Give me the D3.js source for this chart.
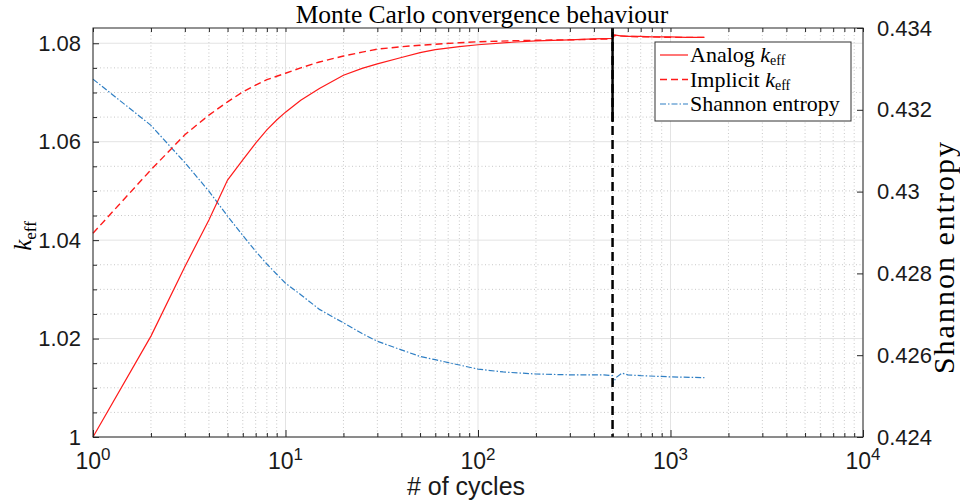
<!DOCTYPE html>
<html>
<head>
<meta charset="utf-8">
<script src="https://cdn.jsdelivr.net/npm/d3@7"></script>
<style>
  html, body { margin: 0; padding: 0; background: #fff; }
  svg { display: block; }
</style>
</head>
<body>
<svg id="chart" width="960" height="501"></svg>
<script>
// ---------------- data ----------------
const kCycles = [1,2,3,4,5,6,7,8,9,10,12,15,20,25,30,40,50,60,80,100,150,200,300,400,500,510,550,600,700,800,1000,1200,1500];
const analogK = [1.0000,1.0205,1.0346,1.0441,1.0522,1.0563,1.0597,1.0624,1.0644,1.0660,1.0684,1.0708,1.0735,1.0749,1.0758,1.0771,1.0781,1.0787,1.0793,1.0797,1.0802,1.0805,1.0807,1.0809,1.0810,1.0817,1.0815,1.0814,1.0814,1.0813,1.0813,1.0812,1.0812];
const implicitK = [1.0414,1.0543,1.0614,1.0654,1.0681,1.0701,1.0715,1.0726,1.0733,1.0739,1.0750,1.0762,1.0774,1.0782,1.0788,1.0793,1.0796,1.0798,1.0801,1.0803,1.0805,1.0806,1.0807,1.0808,1.0809,1.0816,1.0815,1.0814,1.0813,1.0813,1.0812,1.0812,1.0812];
const hCycles = [1,2,3,4,5,6,7,8,9,10,12,15,20,25,30,40,50,60,80,100,135,200,300,450,500,505,520,560,600,700,1000,1500];
const entropy = [0.43275,0.43162,0.43071,0.43001,0.42940,0.42893,0.42854,0.42823,0.42798,0.42776,0.42748,0.42712,0.42679,0.42653,0.42634,0.42613,0.42597,0.42589,0.42576,0.42566,0.42559,0.42554,0.42552,0.42552,0.42550,0.42532,0.42545,0.42556,0.42552,0.42550,0.42547,0.42545];
const vlineCycle = 500;
const vlineSolidTo = 1.064;   // solid part of marker (left axis units)
const xDomain = [1, 10000];
const kDomain = [1, 1.0831];
const hDomain = [0.424, 0.434];
const xTickExps = [0, 1, 2, 3, 4];
const kTicks = [1, 1.02, 1.04, 1.06, 1.08];
const kTickLabels = ["1", "1.02", "1.04", "1.06", "1.08"];
const kMinorStep = 0.005;
const hTicks = [0.424, 0.426, 0.428, 0.43, 0.432, 0.434];
const hTickLabels = ["0.424", "0.426", "0.428", "0.43", "0.432", "0.434"];
const legendItems = ["Analog", "Implicit", "Shannon entropy"];

// ---------------- layout ----------------
const L = 93, R = 863, T = 28, B = 437;
const svg = d3.select("#chart");
const sans = "'Liberation Sans', Arial, Helvetica, sans-serif";
const serif = "'Liberation Serif', 'Times New Roman', serif";

const x = d3.scaleLog().domain(xDomain).range([L, R]);
const yK = d3.scaleLinear().domain(kDomain).range([B, T]);
const yH = d3.scaleLinear().domain(hDomain).range([B, T]);

// grid
const grid = svg.append("g");
const minorX = [];
for (let e = 0; e < 4; e++) for (let m = 2; m <= 9; m++) minorX.push(m * Math.pow(10, e));
grid.selectAll(".mx").data(minorX).enter().append("line")
  .attr("x1", d => x(d)).attr("x2", d => x(d)).attr("y1", T).attr("y2", B)
  .attr("stroke", "#c8c8c8").attr("stroke-width", 1).attr("stroke-dasharray", "1,2.5");
const minorY = d3.range(kDomain[0], kDomain[1], kMinorStep).filter(v => kTicks.every(t => Math.abs(t - v) > 1e-6));
grid.selectAll(".my").data(minorY).enter().append("line")
  .attr("x1", L).attr("x2", R).attr("y1", d => yK(d)).attr("y2", d => yK(d))
  .attr("stroke", "#c8c8c8").attr("stroke-width", 1).attr("stroke-dasharray", "1,2.5");
grid.selectAll(".Mx").data(xTickExps).enter().append("line")
  .attr("x1", d => x(Math.pow(10, d))).attr("x2", d => x(Math.pow(10, d))).attr("y1", T).attr("y2", B)
  .attr("stroke", "#e3e3e3").attr("stroke-width", 1);
grid.selectAll(".My").data(kTicks).enter().append("line")
  .attr("x1", L).attr("x2", R).attr("y1", d => yK(d)).attr("y2", d => yK(d))
  .attr("stroke", "#e3e3e3").attr("stroke-width", 1);

// series
const kIdx = d3.range(kCycles.length);
const hIdx = d3.range(hCycles.length);
const lineA = d3.line().x(i => x(kCycles[i])).y(i => yK(analogK[i]));
const lineI = d3.line().x(i => x(kCycles[i])).y(i => yK(implicitK[i]));
const lineH = d3.line().x(i => x(hCycles[i])).y(i => yH(entropy[i]));

svg.append("path").attr("d", lineH(hIdx)).attr("fill", "none")
  .attr("stroke", "#2f7fc4").attr("stroke-width", 1.2).attr("stroke-dasharray", "6,2,1.5,2");
svg.append("path").attr("d", lineI(kIdx)).attr("fill", "none")
  .attr("stroke", "#ff1a1a").attr("stroke-width", 1.4).attr("stroke-dasharray", "7,4");
svg.append("path").attr("d", lineA(kIdx)).attr("fill", "none")
  .attr("stroke", "#ff1a1a").attr("stroke-width", 1.2);

// vertical marker
svg.append("line").attr("x1", x(vlineCycle)).attr("x2", x(vlineCycle))
  .attr("y1", T).attr("y2", B).attr("stroke", "#000").attr("stroke-width", 2.5)
  .attr("stroke-dasharray", "9,5");
svg.append("line").attr("x1", x(vlineCycle)).attr("x2", x(vlineCycle))
  .attr("y1", T).attr("y2", yK(vlineSolidTo)).attr("stroke", "#000").attr("stroke-width", 2.5);

// axes frame
const axisColor = "#262626";
svg.append("rect").attr("x", L).attr("y", T).attr("width", R - L).attr("height", B - T)
  .attr("fill", "none").attr("stroke", axisColor).attr("stroke-width", 1);

// left axis
const leftAxis = d3.axisLeft(yK).tickValues(kTicks).tickFormat((d, i) => kTickLabels[i]).tickSize(-6).tickPadding(12);
const gL = svg.append("g").attr("transform", `translate(${L},0)`).call(leftAxis);
gL.select(".domain").remove();
gL.selectAll("line").attr("stroke", axisColor);
gL.selectAll("text").attr("font-family", sans).attr("font-size", 22).attr("fill", "#1a1a1a");
const gLm = svg.append("g").attr("transform", `translate(${L},0)`)
  .call(d3.axisLeft(yK).tickValues(minorY).tickFormat("").tickSize(-4));
gLm.select(".domain").remove();
gLm.selectAll("line").attr("stroke", axisColor);

// right axis
const rightAxis = d3.axisRight(yH).tickValues(hTicks).tickFormat((d, i) => hTickLabels[i]).tickSize(-6).tickPadding(14);
const gR = svg.append("g").attr("transform", `translate(${R},0)`).call(rightAxis);
gR.select(".domain").remove();
gR.selectAll("line").attr("stroke", axisColor);
gR.selectAll("text").attr("font-family", sans).attr("font-size", 22).attr("fill", "#1a1a1a");

// bottom axis
const gB = svg.append("g").attr("transform", `translate(0,${B})`)
  .call(d3.axisBottom(x).tickValues(xTickExps.map(e => Math.pow(10, e))).tickFormat("").tickSize(-7));
gB.select(".domain").remove();
gB.selectAll("line").attr("stroke", axisColor);
const gBm = svg.append("g").attr("transform", `translate(0,${B})`)
  .call(d3.axisBottom(x).tickValues(minorX).tickFormat("").tickSize(-4));
gBm.select(".domain").remove();
gBm.selectAll("line").attr("stroke", axisColor);
const gTm = svg.append("g").attr("transform", `translate(0,${T})`)
  .call(d3.axisTop(x).tickValues(minorX.concat(xTickExps.map(e => Math.pow(10, e)))).tickFormat("").tickSize(-4));
gTm.select(".domain").remove();
gTm.selectAll("line").attr("stroke", axisColor);

const xl = svg.append("g").selectAll("text").data(xTickExps).enter().append("text")
  .attr("x", d => x(Math.pow(10, d))).attr("y", 469)
  .attr("text-anchor", "middle").attr("font-family", sans).attr("font-size", 23).attr("fill", "#1a1a1a");
xl.append("tspan").text("10");
xl.append("tspan").attr("dy", -9).attr("font-size", 17).text(d => d);

// axis labels
svg.append("text").attr("x", (L + R) / 2 - 12).attr("y", 495).attr("text-anchor", "middle")
  .attr("font-family", sans).attr("font-size", 25).attr("fill", "#1a1a1a").text("# of cycles");

const kl = svg.append("text").attr("transform", "translate(31,236) rotate(-90)")
  .attr("text-anchor", "middle").attr("font-family", serif).attr("font-size", 25).attr("fill", "#000");
kl.append("tspan").attr("font-style", "italic").text("k");
kl.append("tspan").attr("dy", 5).attr("font-size", 17).text("eff");

svg.append("text").attr("transform", "translate(954,257) rotate(-90)")
  .attr("text-anchor", "middle").attr("font-family", serif).attr("font-size", 30)
  .attr("letter-spacing", 2).attr("fill", "#000")
  .text("Shannon entropy");

svg.append("text").attr("x", 482).attr("y", 23).attr("text-anchor", "middle")
  .attr("font-family", serif).attr("font-size", 25.5).attr("fill", "#000")
  .text("Monte Carlo convergence behaviour");

// legend
const lg = svg.append("g");
lg.append("rect").attr("x", 655).attr("y", 42).attr("width", 196).attr("height", 79)
  .attr("fill", "#fff").attr("stroke", "#333").attr("stroke-width", 1);
const styles = [
  { c: "#ff1a1a", w: 1.2, d: null },
  { c: "#ff1a1a", w: 1.4, d: "7,4" },
  { c: "#2f7fc4", w: 1.2, d: "6,2,1.5,2" }
];
legendItems.forEach((name, i) => {
  const yy = 55 + i * 24.5;
  const ln = lg.append("line").attr("x1", 660).attr("x2", 688).attr("y1", yy).attr("y2", yy)
    .attr("stroke", styles[i].c).attr("stroke-width", styles[i].w);
  if (styles[i].d) ln.attr("stroke-dasharray", styles[i].d);
  const t = lg.append("text").attr("x", 690).attr("y", yy + 7)
    .attr("font-family", serif).attr("font-size", 22).attr("fill", "#000");
  t.append("tspan").text(name);
  if (i < 2) {
    t.append("tspan").attr("font-style", "italic").text(" k");
    t.append("tspan").attr("dy", 3).attr("font-size", 14).text("eff");
  }
});
</script>
</body>
</html>
